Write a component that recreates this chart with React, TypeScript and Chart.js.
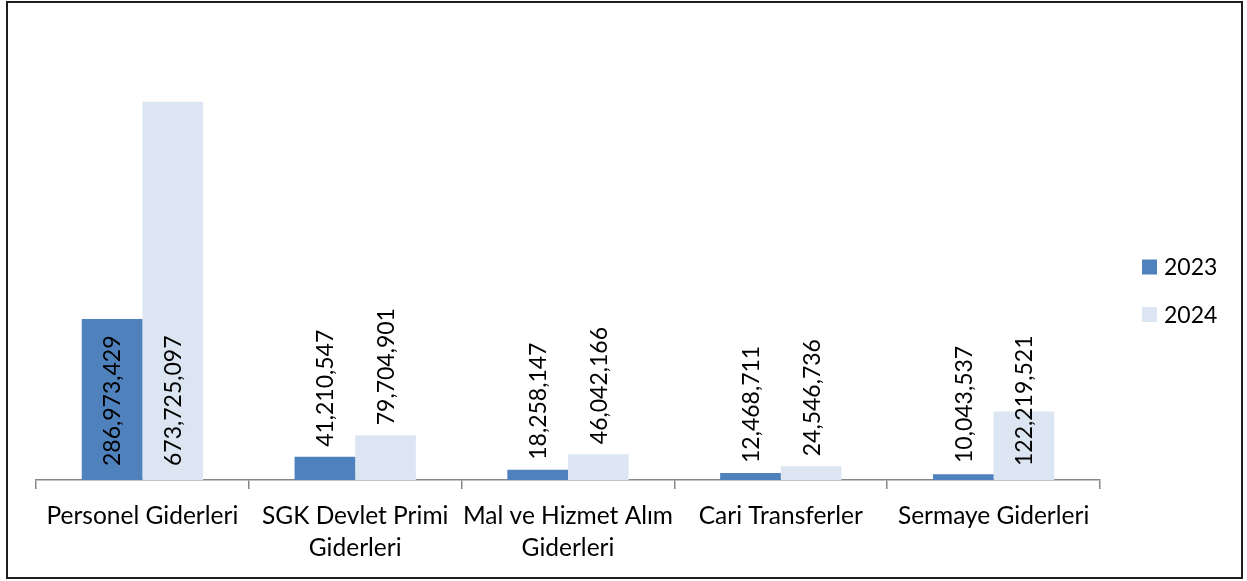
import React, { useEffect, useRef } from "react";
import { Chart, registerables } from "chart.js";

Chart.register(...registerables);

const categories: string[][] = [
  ["Personel Giderleri"],
  ["SGK Devlet Primi", "Giderleri"],
  ["Mal ve Hizmet Alım", "Giderleri"],
  ["Cari Transferler"],
  ["Sermaye Giderleri"],
];
const seriesNames = ["2023", "2024"];
const values2023 = [286973429, 41210547, 18258147, 12468711, 10043537];
const values2024 = [673725097, 79704901, 46042166, 24546736, 122219521];
const yMax = 800000000;
const seriesColors = ["#4F81BD", "#DCE6F2"];

const FONT = "Lato";
const FONT_SIZE = 23;
const TICK_FONT_SIZE = 24.5;

const decorPlugin = {
  id: "decor",
  beforeDraw(chart: any) {
    const ctx = chart.ctx;
    ctx.save();
    ctx.fillStyle = "#ffffff";
    ctx.fillRect(0, 0, chart.width, chart.height);
    ctx.restore();
  },
  afterDraw(chart: any) {
    const ctx = chart.ctx;
    const area = chart.chartArea;
    // value labels
    ctx.save();
    ctx.font = `${FONT_SIZE}px ${FONT}`;
    ctx.fillStyle = "#000000";
    ctx.textAlign = "left";
    ctx.textBaseline = "middle";
    const base = area.bottom;
    chart.data.datasets.forEach((ds: any, di: number) => {
      const meta = chart.getDatasetMeta(di);
      meta.data.forEach((bar: any, i: number) => {
        const v = ds.data[i] as number;
        const text = v.toLocaleString("en-US");
        const h = base - bar.y;
        const start = h >= 60 ? base - 14 : Math.min(bar.y - 10, base - 17);
        ctx.save();
        ctx.translate(bar.x + 1, start);
        ctx.rotate(-Math.PI / 2);
        ctx.fillText(text, 0, 0);
        ctx.restore();
      });
    });
    ctx.restore();

    // legend
    ctx.save();
    ctx.font = `${FONT_SIZE}px ${FONT}`;
    ctx.textAlign = "left";
    ctx.textBaseline = "middle";
    const lx = area.right + 42;
    const mid = chart.height / 2;
    seriesNames.forEach((name, i) => {
      const cy = mid + (i === 0 ? -23.5 : 24);
      ctx.fillStyle = seriesColors[i];
      ctx.fillRect(lx, cy - 7.5, 15, 15);
      ctx.fillStyle = "#000000";
      ctx.fillText(name, lx + 22, cy + 1);
    });
    ctx.restore();

    // outer border
    ctx.save();
    ctx.strokeStyle = "#1e1e1e";
    ctx.lineWidth = 2;
    ctx.strokeRect(7, 2, 1235, 576);
    ctx.restore();
  },
};

export default function App() {
  const canvasRef = useRef<HTMLCanvasElement | null>(null);

  useEffect(() => {
    if (!canvasRef.current) return;
    const chart = new Chart(canvasRef.current, {
      type: "bar",
      data: {
        labels: categories,
        datasets: [
          {
            label: seriesNames[0],
            data: values2023,
            backgroundColor: seriesColors[0],
            borderWidth: 0,
          },
          {
            label: seriesNames[1],
            data: values2024,
            backgroundColor: seriesColors[1],
            borderWidth: 0,
          },
        ],
      },
      options: {
        responsive: false,
        animation: false,
        devicePixelRatio: 1,
        layout: { padding: { left: 36, right: 147, top: 31, bottom: 0 } },
        datasets: {
          bar: { barPercentage: 1, categoryPercentage: 0.57 },
        },
        plugins: {
          legend: { display: false },
          tooltip: { enabled: false },
          title: { display: false },
        },
        scales: {
          x: {
            grid: {
              display: true,
              drawOnChartArea: false,
              drawTicks: true,
              tickLength: 9,
              color: "#868686",
              lineWidth: 1.5,
              offset: true,
            },
            border: { display: true, color: "#868686", width: 1.5 },
            ticks: {
              font: { family: FONT, size: TICK_FONT_SIZE, lineHeight: 1.3 },
              color: "#000000",
              padding: 11,
              maxRotation: 0,
              minRotation: 0,
              autoSkip: false,
            },
            afterFit: (s: any) => {
              s.height = 101;
            },
          },
          y: {
            display: false,
            min: 0,
            max: yMax,
          },
        },
      } as any,
      plugins: [decorPlugin],
    });
    if ((document as any).fonts && (document as any).fonts.load) {
      (document as any).fonts.load(`${FONT_SIZE}px ${FONT}`).then(() => chart.update()).catch(() => {});
    }
    return () => chart.destroy();
  }, []);

  return (
    <div style={{ position: "fixed", left: 0, top: 0, width: 1247, height: 581, background: "#fff" }}>
      <canvas ref={canvasRef} width={1247} height={581} style={{ display: "block", width: 1247, height: 581 }} />
    </div>
  );
}
